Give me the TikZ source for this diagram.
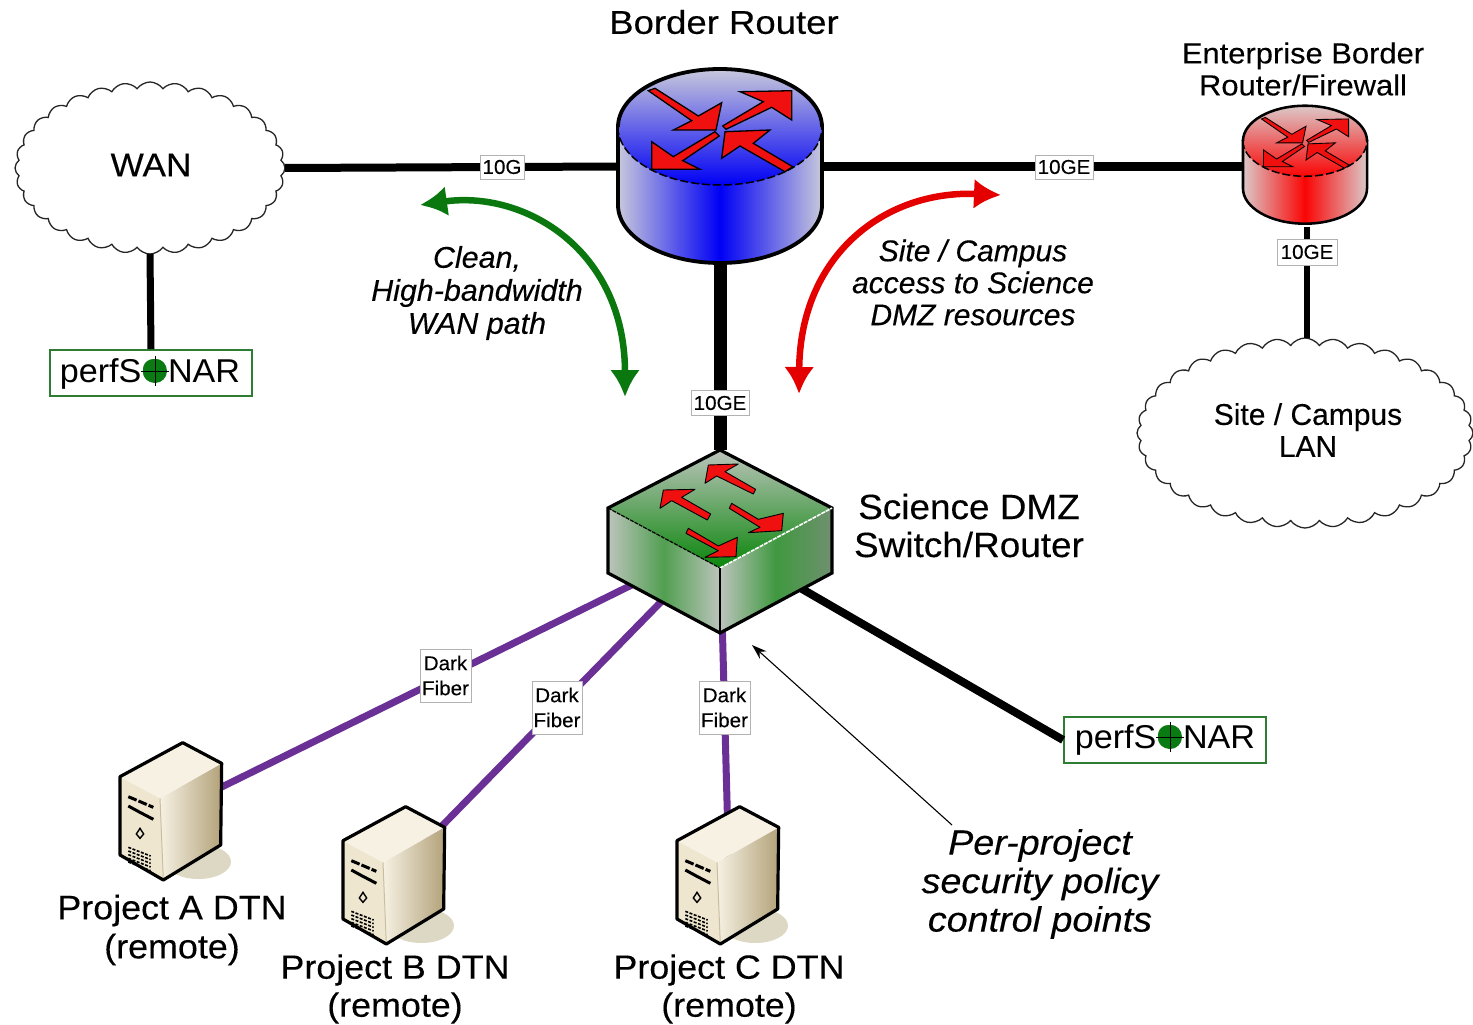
\documentclass[tikz,border=0pt]{standalone}
\usepackage{fontspec}
\setmainfont{Liberation Sans}
\usetikzlibrary{arrows.meta,shapes.symbols}
\definecolor{blueLight}{HTML}{C8C8DC}
\definecolor{blueMain}{HTML}{0000F5}
\definecolor{redLight}{HTML}{DCC8C8}
\definecolor{redMain}{HTML}{FA0505}
\definecolor{greenLight}{HTML}{BCC4BC}
\definecolor{greenMain}{HTML}{0A860A}
\definecolor{greenEdge}{HTML}{6F906F}
\definecolor{arrowRed}{HTML}{F01010}
\definecolor{fiber}{HTML}{6A3096}
\definecolor{sonarGreen}{HTML}{2F7D32}
\definecolor{dotGreen}{HTML}{0A7A12}
\definecolor{curveGreen}{HTML}{0A780F}
\definecolor{creamTop}{HTML}{F6F1E3}
\definecolor{creamFront}{HTML}{EEE6CE}
\definecolor{creamDark}{HTML}{B3A27A}
\definecolor{shadowTan}{HTML}{DDD8C4}
\newcommand{\capfont}[3]{\fontsize{#1}{#2}\selectfont\addfontfeature{FakeStretch=#3,FakeBold=0.25}}
\newcommand{\capital}[3]{\fontsize{#1}{#2}\itshape\selectfont\addfontfeature{FakeStretch=#3,FakeBold=0.25}}
\tikzset{
  x=1pt,y=-1pt,
  anchorbox/.style={inner sep=0pt,outer sep=0pt},
  puff/.style={shape=cloud,draw=black!85,line width=1.3pt,fill=white,inner sep=0pt,outer sep=0pt,cloud puff arc=110},
  link/.style={draw=black},
  fiberlink/.style={draw=fiber,line width=7pt},
  tag/.style={draw=black!30,line width=.6pt,fill=white,inner sep=0pt,align=center,font=\capfont{20}{25}{1.03}},
  sonarbox/.style={draw=sonarGreen,line width=1.8pt,fill=white,minimum width=202pt,minimum height=46pt,inner sep=0pt},
  sonartext/.style={inner sep=0pt,font=\fontsize{33}{36}\selectfont\addfontfeature{FakeStretch=1.035}},
  caption/.style={inner sep=0pt,align=center},
  routerarrow/.style={fill=arrowRed,draw=black,line join=miter},
  switcharrow/.style={fill=arrowRed,draw=black,line width=.9pt,line join=round},
  curvedarrow/.style={line width=6.5pt,{Latex[length=27pt,width=30pt]}-{Latex[length=27pt,width=30pt]}},
}
\newcommand{\routerdraw}[4]{%
  \begin{scope}[shift={(#1,#2)},scale=#3]
    \path[left color=#4Light,right color=#4Light,middle color=#4Main,draw=black,line width=3.2pt*#3+.6pt]
      (-102,0) -- (-102,78) arc[start angle=180,end angle=0,x radius=102,y radius=58] -- (102,0) -- cycle;
    \path[top color=#4Light,bottom color=#4Main,middle color=#4Main!50!#4Light]
      (0,0) ellipse[x radius=102,y radius=58];
    \draw[line width=3.2pt*#3+.6pt] (-102,0) arc[start angle=180,end angle=360,x radius=102,y radius=58];
    \draw[line width=1.5pt,dash pattern=on 8pt off 3pt] (-102,0) arc[start angle=180,end angle=0,x radius=102,y radius=58];
    \path[routerarrow,line width=1.1pt*#3+.2pt] (-71.7,-36.3)--(-65,-38.7)--(-21.7,-11)--(1.7,-24.3)--(-4,3)--(-46.7,3)--(-28.3,-6.3)--cycle;
    \path[routerarrow,line width=1.1pt*#3+.2pt] (2.7,-1)--(43.3,-25.3)--(20,-35.3)--(71.7,-36.3)--(71.7,-7)--(51.7,-19.7)--(6,2.3)--cycle;
    \path[routerarrow,line width=1.1pt*#3+.2pt] (-5,4.7)--(-46.7,29.7)--(-68.3,14.7)--(-68.3,42.3)--(-20,42.3)--(-37.3,33.7)--(-.7,9)--cycle;
    \path[routerarrow,line width=1.1pt*#3+.2pt] (72.7,39.7)--(33.3,16.3)--(50,3)--(5,4.7)--(1.7,31.3)--(20,19)--(65,44.7)--cycle;
  \end{scope}}
\newcommand{\serverdraw}[2]{%
  \begin{scope}[shift={(#1,#2)},scale=1/3]
    \fill[shadowTan] (295,395) ellipse[x radius=98,y radius=52];
    \fill[creamFront] (60,140)--(180,205)--(190,450)--(60,375)--cycle;
    \path[left color=creamTop,right color=creamDark] (180,205)--(365,100)--(362,345)--(190,450)--cycle;
    \fill[creamTop] (60,140)--(248,38)--(365,100)--(180,205)--cycle;
    \draw[line width=1pt,draw=creamDark!70] (180,205)--(190,450);
    \draw[line width=3.2pt,line join=round] (60,140)--(248,38)--(365,100)--(362,345)--(190,450)--(60,375)--cycle;
    \draw[line width=3pt,dash pattern=on 9pt off 2pt] (85,200)--(118,214)--(160,232);
    \draw[line width=3pt] (85,228)--(118,246)--(160,268);
    \draw[line width=1.4pt] (120,295)--(131,312)--(120,325)--(109,312)--cycle;
    \foreach \r in {0,1,2,3,4}{\draw[line width=1.6pt,dash pattern=on 3pt off 1.5pt] (85,{352+\r*11})--(152,{378+\r*11});}
  \end{scope}}
\begin{document}
\begin{tikzpicture}
\useasboundingbox (0,0) rectangle (1473,1025);
\fill[white] (0,0) rectangle (1473,1025);
% clouds
\node[puff,cloud puffs=32,aspect=1.55,minimum width=270pt,minimum height=172pt] (wan) at (150,168) {};
\node[puff,cloud puffs=36,aspect=1.75,minimum width=336pt,minimum height=190pt] (lan) at (1305,433) {};
% anchors of the drawn devices
\node[anchorbox,minimum width=204pt,minimum height=193pt] (border) at (720,166.5) {};
\node[anchorbox,minimum width=124pt,minimum height=120pt] (enterprise) at (1305,166.5) {};
\node[anchorbox,minimum width=224pt,minimum height=183pt] (dmz) at (720,541.5) {};
\node[anchorbox,minimum width=102pt,minimum height=138pt] (srvA) at (171,812) {};
\node[anchorbox,minimum width=102pt,minimum height=138pt] (srvB) at (393,876) {};
\node[anchorbox,minimum width=102pt,minimum height=138pt] (srvC) at (729,875) {};
\node[sonarbox] (psA) at (151,373) {};
\node[sonarbox] (psB) at (1165,740) {};
\coordinate (policyEnd) at (952,825);
\coordinate (policyTip) at (752,645);
\coordinate (greenA) at (420,205);
\coordinate (greenB) at (625,397);
\coordinate (redA) at (1001,195);
\coordinate (redB) at (799,394);
% connectors
\draw[link,line width=8pt] (wan.east) -- (border.west);
\draw[link,line width=9pt] (border.east) -- (enterprise.west);
\draw[link,line width=7pt] (wan.south) -- (psA.north);
\draw[link,line width=13pt] (border.south) -- (dmz.north);
\draw[link,line width=6pt] ([xshift=2pt]enterprise.south) -- ([xshift=2pt]lan.north);
\path[fiberlink] (dmz.center) -- (srvA.center);
\path[fiberlink] (dmz.center) -- (srvB.center);
\path[fiberlink] (dmz.center) -- (srvC.center);
\draw[link,line width=8pt] (dmz.center) -- (psB.west);
\draw[-{Stealth[length=15pt,width=10pt]},line width=1.1pt] (policyEnd) -- (policyTip);
\draw[curvedarrow,draw=curveGreen] (greenA) .. controls (525,190) and (625,250) .. (greenB);
\draw[curvedarrow,draw=red!90!black] (redA) .. controls (885,190) and (800,255) .. (redB);
% routers
\routerdraw{720}{127}{1}{blue}
\routerdraw{1305}{141}{0.608}{red}
% switch
\path[left color=greenLight,right color=greenLight,middle color=greenMain!60!greenLight] (608,508)--(720,568)--(720,633)--(608,573)--cycle;
\path[left color=greenLight,right color=greenEdge,middle color=greenMain!70!greenLight] (720,568)--(832,508)--(832,573)--(720,633)--cycle;
\path[top color=greenLight,bottom color=greenMain,middle color=greenMain!50!greenLight] (720,450)--(832,508)--(720,568)--(608,508)--cycle;
\draw[line width=3.2pt,line join=miter] (720,450)--(832,508)--(832,573)--(720,633)--(608,573)--(608,508)--cycle;
\draw[line width=1.2pt,dash pattern=on 4pt off 1pt] (608,508)--(720,568);
\draw[white,line width=1.6pt,dash pattern=on 4pt off 1pt] (720,568)--(832,508);
\draw[line width=1.2pt] (720,568)--(720,633);
\begin{scope}[shift={(590,440)},scale=1/3]
  \path[switcharrow] (345,130)--(355,75)--(445,72)--(405,95)--(497,148)--(490,162)--(380,108)--cycle;
  \path[switcharrow] (210,205)--(220,150)--(315,148)--(275,172)--(362,222)--(352,240)--(245,182)--cycle;
  \path[switcharrow] (425,190)--(505,238)--(580,220)--(575,272)--(475,278)--(510,262)--(418,205)--cycle;
  \path[switcharrow] (295,265)--(385,318)--(442,292)--(438,350)--(345,352)--(385,332)--(288,280)--cycle;
\end{scope}
% servers
\serverdraw{100}{730}
\serverdraw{323}{794}
\serverdraw{657}{794}
% tags
\node[tag,minimum width=44pt,minimum height=24pt] (t1) at (502,167) {10G};
\node[tag,minimum width=58pt,minimum height=24pt] (t2) at (1064,167) {10GE};
\node[tag,minimum width=60pt,minimum height=26pt] (t3) at (1307,252) {10GE};
\node[tag,minimum width=58pt,minimum height=25pt] (t4) at (720,403) {10GE};
\node[tag,minimum width=51pt,minimum height=53pt] (t5) at (445.5,675.5) {Dark\\Fiber};
\node[tag,minimum width=50pt,minimum height=53pt] (t6) at (557,707.5) {Dark\\Fiber};
\node[tag,minimum width=51pt,minimum height=53pt] (t7) at (724.5,707.5) {Dark\\Fiber};
% perfSONAR
\node[sonartext] (sA) at (150,374) {perfS\textcolor{dotGreen}{O}NAR};
\fill[dotGreen] (155,371) circle[radius=12];
\draw[line width=1pt] (155,356)--(155,386) (141,371)--(169,371);
\node[sonartext] (sB) at (1165,740) {perfS\textcolor{dotGreen}{O}NAR};
\fill[dotGreen] (1170,737) circle[radius=12];
\draw[line width=1pt] (1170,722)--(1170,752) (1156,737)--(1184,737);
% captions
\node[caption,font=\capfont{33}{36}{1.107}] (c1) at (724,22) {Border Router};
\node[caption,font=\capfont{29}{32}{1.066}] (c2) at (1303,69) {Enterprise Border\\Router/Firewall};
\node[caption,font=\capfont{33}{36}{1.066}] (c3) at (151,165) {WAN};
\node[caption,font=\capfont{30}{32}{1}] (c4) at (1308,430) {Site / Campus\\LAN};
\node[caption,font=\capital{30}{33}{1.015}] (c5) at (477,293) {Clean,\\High-bandwidth\\WAN path};
\node[caption,font=\capital{30}{32}{1}] (c6) at (973,282.5) {Site / Campus\\access to Science\\DMZ resources};
\node[caption,font=\capfont{35}{38}{1.055}] (c7) at (969,525.5) {Science DMZ\\Switch/Router};
\node[caption,font=\capfont{34}{39}{1.055}] (c8) at (172,930) {Project A DTN\\(remote)};
\node[caption,font=\capfont{33.5}{38}{1.07}] (c9) at (395,989) {Project B DTN\\(remote)};
\node[caption,font=\capfont{33.5}{38}{1.07}] (c10) at (729,989) {Project C DTN\\(remote)};
\node[caption,font=\capital{35}{38.5}{1.077}] (c11) at (1040,884) {Per-project\\security policy\\control points};
\end{tikzpicture}
\end{document}
